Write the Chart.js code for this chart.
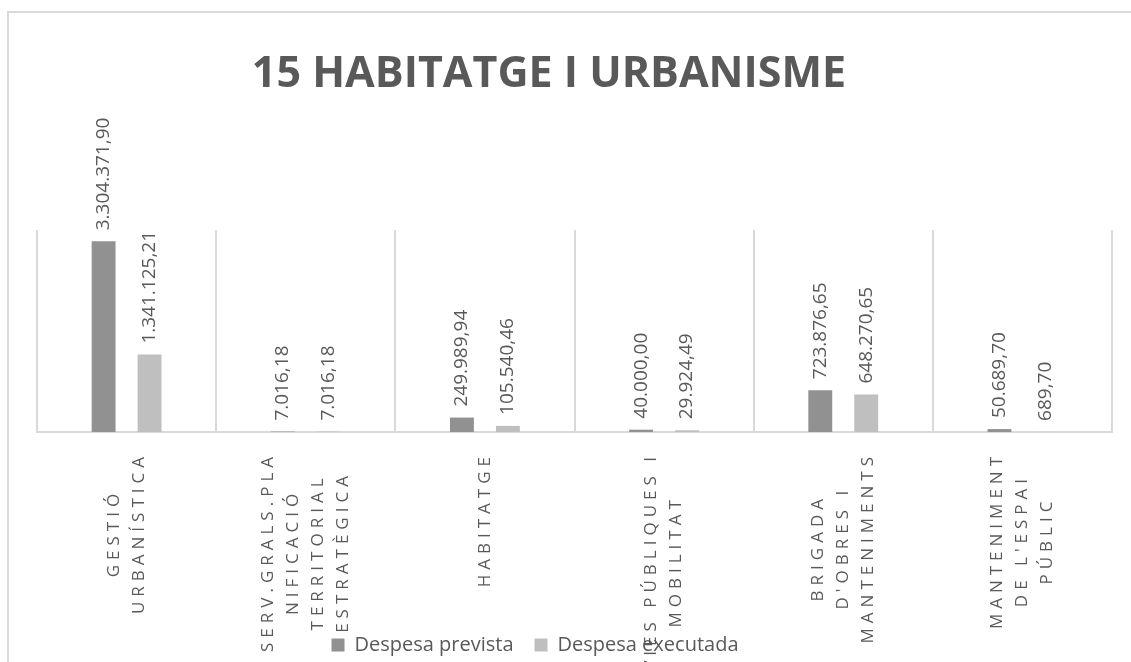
<!DOCTYPE html>
<html><head><meta charset="utf-8">
<script src="https://cdn.jsdelivr.net/npm/chart.js@4.4.0/dist/chart.umd.min.js"></script>
<style>
html,body{margin:0;padding:0;background:#fff;width:1131px;height:662px;overflow:hidden}
#frame{position:absolute;left:7px;top:11px;width:1200px;height:800px;border-left:2px solid #d9d9d9;border-top:2px solid #d9d9d9}
#wrap{position:absolute;left:0;top:0;width:1131px;height:662px}
</style></head><body>
<div id="frame"></div>
<div id="wrap"><canvas id="c" width="1131" height="662"></canvas></div>
<script>
const chartTitle = '15 HABITATGE I URBANISME';
const categories = [
  ['GESTIÓ', 'URBANÍSTICA'],
  ['SERV.GRALS.PLA', 'NIFICACIÓ', 'TERRITORIAL', 'ESTRATÈGICA'],
  ['HABITATGE'],
  ['VIES PÚBLIQUES I', 'MOBILITAT'],
  ['BRIGADA', "D'OBRES I", 'MANTENIMENTS'],
  ['MANTENIMENT', "DE L'ESPAI", 'PÚBLIC']
];
const seriesNames = ['Despesa prevista', 'Despesa executada'];
const prevista = [3304371.90, 7016.18, 249989.94, 40000.00, 723876.65, 50689.70];
const executada = [1341125.21, 7016.18, 105540.46, 29924.49, 648270.65, 689.70];
const yMax = 3500000;

const TEXT = '#595959';
function fmt(v){
  const parts = v.toFixed(2).split('.');
  const intPart = parts[0].replace(/\B(?=(\d{3})+(?!\d))/g, '.');
  return intPart + ',' + parts[1];
}

const labelPlugin = {
  id: 'labels',
  afterLayout(chart){
    const lg = chart.legend;
    if (lg){
      const dx = 535 - (lg.left + lg.right)/2;
      lg.left += dx; lg.right += dx;
      lg.top += 3; lg.bottom += 3;
    }
    const tb = chart.titleBlock;
    if (tb){
      const dx = 549 - (tb.left + tb.right)/2;
      tb.left += dx; tb.right += dx;
    }
  },
  afterDraw(chart){
    const ctx = chart.ctx, xs = chart.scales.x, area = chart.chartArea;
    // data labels
    ctx.save();
    ctx.font = '19px "Open Sans"';
    ctx.fillStyle = TEXT;
    ctx.textAlign = 'left';
    ctx.textBaseline = 'middle';
    chart.data.datasets.forEach((ds, di) => {
      const meta = chart.getDatasetMeta(di);
      meta.data.forEach((bar, i) => {
        ctx.save();
        ctx.translate(bar.x, bar.y - 11);
        ctx.rotate(-Math.PI/2);
        ctx.fillText(fmt(ds.data[i]), 0, 0);
        ctx.restore();
      });
    });
    ctx.restore();
    // category labels
    ctx.save();
    ctx.font = '17px "Open Sans"';
    ctx.fillStyle = TEXT;
    ctx.letterSpacing = '5px';
    ctx.textAlign = 'center';
    ctx.textBaseline = 'middle';
    const lineGap = 25;
    chart.data.labels.forEach((lines, i) => {
      const cx = xs.getPixelForValue(i);
      const widths = lines.map(l => ctx.measureText(l).width);
      const maxW = Math.max(...widths);
      const cy = area.bottom + 20 + maxW/2;
      const n = lines.length;
      lines.forEach((l, j) => {
        const lx = cx + (j - (n-1)/2) * lineGap;
        ctx.save();
        ctx.translate(lx, cy);
        ctx.rotate(-Math.PI/2);
        ctx.fillText(l, 0, 0);
        ctx.restore();
      });
    });
    ctx.restore();
  }
};

new Chart(document.getElementById('c'), {
  type: 'bar',
  data: {
    labels: categories,
    datasets: [
      {label: seriesNames[0], data: prevista, backgroundColor: '#919191', categoryPercentage: 0.513, barPercentage: 0.52},
      {label: seriesNames[1], data: executada, backgroundColor: '#bfbfbf', categoryPercentage: 0.513, barPercentage: 0.52}
    ]
  },
  options: {
    responsive: false,
    animation: false,
    devicePixelRatio: 1,
    layout: {padding: {left: 37, right: 19, top: 0, bottom: 0}},
    plugins: {
      title: {display: true, text: chartTitle, color: TEXT, font: {family: 'Open Sans', size: 43, weight: 'bold'}, padding: {top: 49, bottom: 129.4}},
      legend: {position: 'bottom', labels: {color: TEXT, font: {family: 'Open Sans', size: 20}, boxWidth: 13, boxHeight: 13, padding: 21}},
      tooltip: {enabled: false}
    },
    scales: {
      x: {
        grid: {display: true, color: '#d9d9d9', lineWidth: 2, drawTicks: false, offset: true},
        border: {display: true, color: '#d9d9d9', width: 2},
        ticks: {display: false},
        afterFit(s){ s.height = 179; }
      },
      y: {display: false, min: 0, max: yMax}
    }
  },
  plugins: [labelPlugin]
});
</script>
</body></html>
